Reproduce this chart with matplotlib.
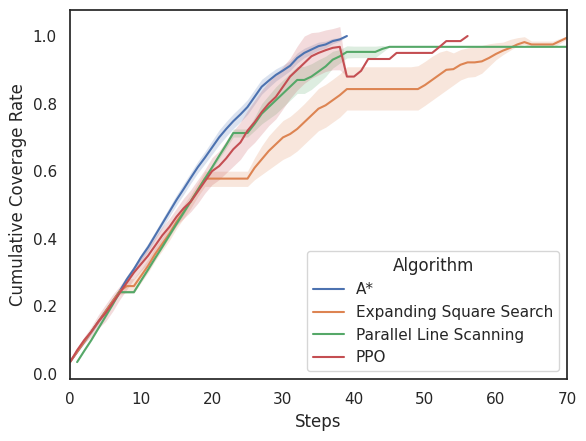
import matplotlib
matplotlib.use("Agg")
import matplotlib.pyplot as plt
import seaborn as sns
import numpy as np

sns.set_theme(style="white")
plt.rcParams['font.family'] = ['DejaVu Sans']

algorithms = ["A*", "Expanding Square Search", "Parallel Line Scanning", "PPO"]
colors = sns.color_palette("deep", 4)

# ---- A* ----
astar_steps = list(range(0, 40))
astar_mean = [0.035, 0.065, 0.095, 0.125, 0.155, 0.185, 0.215, 0.245, 0.28, 0.31,
              0.345, 0.375, 0.41, 0.445, 0.48, 0.515, 0.547, 0.58, 0.612, 0.64,
              0.67, 0.70, 0.725, 0.748, 0.768, 0.79, 0.82, 0.85, 0.868, 0.885,
              0.898, 0.912, 0.935, 0.95, 0.96, 0.97, 0.975, 0.985, 0.99, 1.0]
astar_hw = [0.0, 0.003, 0.005, 0.006, 0.007, 0.008, 0.008, 0.008, 0.01, 0.01,
            0.01, 0.012, 0.012, 0.013, 0.014, 0.015, 0.016, 0.016, 0.017, 0.018,
            0.02, 0.022, 0.022, 0.022, 0.022, 0.022, 0.022, 0.022, 0.02, 0.018,
            0.016, 0.015, 0.015, 0.014, 0.013, 0.012, 0.01, 0.008, 0.005, 0.0]

# ---- Expanding Square Search ----
ess_steps = list(range(0, 71))
ess_mean = [0.035, 0.065, 0.095, 0.125, 0.155, 0.185, 0.215, 0.245, 0.26, 0.26,
            0.29, 0.32, 0.355, 0.385, 0.415, 0.45, 0.48, 0.51, 0.545, 0.578,
            0.578, 0.578, 0.578, 0.578, 0.578, 0.578, 0.61, 0.635, 0.66, 0.68,
            0.70, 0.71, 0.725, 0.745, 0.765, 0.785, 0.795, 0.81, 0.825, 0.843,
            0.843, 0.843, 0.843, 0.843, 0.843, 0.843, 0.843, 0.843, 0.843, 0.843,
            0.855, 0.87, 0.885, 0.90, 0.902, 0.915, 0.922, 0.922, 0.925, 0.935,
            0.947, 0.957, 0.965, 0.975, 0.982, 0.975, 0.975, 0.975, 0.975, 0.985,
            0.995]
ess_lo = [0.035, 0.063, 0.092, 0.12, 0.15, 0.18, 0.21, 0.235, 0.24, 0.24,
          0.27, 0.30, 0.335, 0.365, 0.395, 0.43, 0.46, 0.49, 0.525, 0.555,
          0.555, 0.555, 0.555, 0.555, 0.555, 0.555, 0.575, 0.59, 0.605, 0.62,
          0.635, 0.645, 0.66, 0.68, 0.70, 0.72, 0.73, 0.745, 0.76, 0.781,
          0.781, 0.781, 0.781, 0.781, 0.781, 0.781, 0.781, 0.781, 0.781, 0.781,
          0.795, 0.81, 0.825, 0.84, 0.855, 0.87, 0.878, 0.88, 0.89, 0.91,
          0.93, 0.945, 0.958, 0.97, 0.975, 0.966, 0.966, 0.966, 0.966, 0.978,
          0.99]
ess_hi = [0.035, 0.067, 0.098, 0.13, 0.16, 0.19, 0.22, 0.255, 0.282, 0.282,
          0.31, 0.34, 0.375, 0.405, 0.435, 0.47, 0.50, 0.53, 0.565, 0.60,
          0.60, 0.60, 0.60, 0.60, 0.60, 0.60, 0.64, 0.675, 0.705, 0.728,
          0.75, 0.762, 0.78, 0.80, 0.822, 0.845, 0.857, 0.872, 0.888, 0.909,
          0.909, 0.909, 0.909, 0.909, 0.909, 0.909, 0.909, 0.909, 0.909, 0.912,
          0.925, 0.94, 0.952, 0.958, 0.95, 0.96, 0.965, 0.968, 0.972, 0.977,
          0.98, 0.982, 0.99, 0.995, 0.998, 0.985, 0.985, 0.985, 0.985, 0.993,
          1.0]

# ---- Parallel Line Scanning ----
pls_steps = list(range(1, 71))
pls_mean = [0.035, 0.068, 0.10, 0.135, 0.17, 0.205, 0.242, 0.242, 0.242,
            0.276, 0.309, 0.343, 0.376, 0.41, 0.444, 0.477, 0.511, 0.544, 0.578,
            0.611, 0.645, 0.678, 0.713, 0.713, 0.713, 0.74, 0.77, 0.79, 0.81,
            0.83, 0.85, 0.87, 0.87, 0.88, 0.895, 0.91, 0.93, 0.94, 0.953,
            0.953, 0.953, 0.953, 0.953, 0.962] + [0.968] * 26
pls_hw = [0.0, 0.002, 0.003, 0.003, 0.003, 0.003, 0.003, 0.003, 0.003,
          0.003, 0.004, 0.004, 0.004, 0.005, 0.005, 0.005, 0.005, 0.006, 0.006,
          0.007, 0.008, 0.01, 0.012, 0.012, 0.012, 0.02, 0.03, 0.035, 0.04,
          0.04, 0.04, 0.04, 0.04, 0.038, 0.035, 0.03, 0.025, 0.02, 0.018,
          0.017, 0.017, 0.017, 0.017, 0.01] + [0.0] * 26

# ---- PPO ----
ppo_steps = list(range(0, 57))
ppo_mean = [0.035, 0.07, 0.10, 0.125, 0.155, 0.18, 0.21, 0.24, 0.27, 0.30,
            0.325, 0.35, 0.38, 0.41, 0.435, 0.465, 0.49, 0.51, 0.54, 0.57,
            0.60, 0.615, 0.638, 0.665, 0.685, 0.72, 0.745, 0.775, 0.80, 0.82,
            0.85, 0.88, 0.90, 0.92, 0.94, 0.95, 0.958, 0.965, 0.968, 0.88,
            0.88, 0.897, 0.932, 0.932, 0.932, 0.932, 0.95, 0.95, 0.95, 0.95,
            0.95, 0.95, 0.967, 0.985, 0.985, 0.985, 1.0]
ppo_lo = [0.035, 0.065, 0.09, 0.11, 0.135, 0.155, 0.185, 0.22, 0.25, 0.28,
          0.305, 0.325, 0.355, 0.385, 0.41, 0.44, 0.46, 0.48, 0.505, 0.535,
          0.56, 0.575, 0.595, 0.615, 0.635, 0.665, 0.685, 0.71, 0.735, 0.755,
          0.785, 0.815, 0.84, 0.86, 0.875, 0.885, 0.895, 0.90, 0.90, 0.88,
          0.88, 0.897, 0.932, 0.932, 0.932, 0.932, 0.95, 0.95, 0.95, 0.95,
          0.95, 0.95, 0.967, 0.985, 0.985, 0.985, 1.0]
ppo_hi = [0.035, 0.075, 0.11, 0.14, 0.175, 0.205, 0.235, 0.26, 0.29, 0.32,
          0.345, 0.375, 0.405, 0.435, 0.46, 0.49, 0.52, 0.545, 0.575, 0.605,
          0.64, 0.66, 0.69, 0.72, 0.745, 0.78, 0.81, 0.84, 0.865, 0.885,
          0.91, 0.935, 0.97, 1.0, 1.01, 1.012, 1.018, 1.022, 1.028, 0.88,
          0.88, 0.897, 0.932, 0.932, 0.932, 0.932, 0.95, 0.95, 0.95, 0.95,
          0.95, 0.95, 0.967, 0.985, 0.985, 0.985, 1.0]

series = [
    (astar_steps, astar_mean,
     [m - h for m, h in zip(astar_mean, astar_hw)],
     [m + h for m, h in zip(astar_mean, astar_hw)]),
    (ess_steps, ess_mean, ess_lo, ess_hi),
    (pls_steps, pls_mean,
     [m - h for m, h in zip(pls_mean, pls_hw)],
     [m + h for m, h in zip(pls_mean, pls_hw)]),
    (ppo_steps, ppo_mean, ppo_lo, ppo_hi),
]

fig = plt.figure(figsize=(5.86, 4.41), dpi=100)
ax = fig.add_axes([70/586, 1 - 379/441, (567-70)/586, (379-10)/441])

for name, color, (x, m, lo, hi) in zip(algorithms, colors, series):
    ax.fill_between(x, lo, hi, color=color, alpha=0.2, linewidth=0)
    ax.plot(x, m, color=color, linewidth=1.5, label=name)

ax.set_xlim(0, 70)
ax.set_ylim(-0.015, 1.077)
ax.set_xticks(range(0, 71, 10))
ax.set_yticks([0.0, 0.2, 0.4, 0.6, 0.8, 1.0])
ax.set_yticklabels(["0.0", "0.2", "0.4", "0.6", "0.8", "1.0"])
ax.set_xlabel("Steps")
ax.set_ylabel("Cumulative Coverage Rate")
ax.legend(title="Algorithm", loc="lower right")

fig.savefig("out.png", dpi=100)
